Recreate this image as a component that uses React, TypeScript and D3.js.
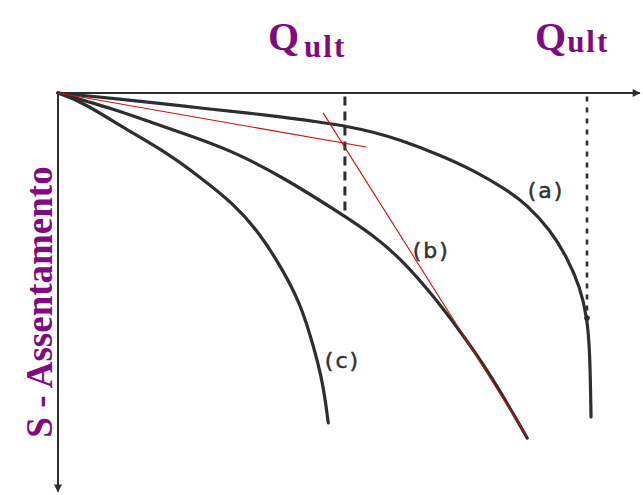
import React, { useEffect, useRef } from 'react';
import * as d3 from 'd3';

// load Q and settlement S, relative units (0-100)
const curveA_Q = [0, 16.0, 24.7, 36.3, 46.8, 49.9, 54.8, 59.5, 66.4, 72.2, 78.1, 81.6, 85.6, 88.5, 90.8, 92.0, 92.5, 92.7];
const curveA_S = [0, 2.3, 3.8, 5.5, 7.6, 8.3, 9.8, 11.8, 15.6, 19.4, 24.4, 28.2, 34.5, 41.3, 48.9, 56.4, 64.7, 81.6];

const curveB_Q = [0, 10.3, 16.0, 21.7, 30.4, 39.1, 49.0, 54.8, 59.5, 64.7, 69.4, 75.1, 81.6];
const curveB_S = [0, 4.3, 7.3, 10.1, 14.6, 21.2, 30.2, 35.8, 41.6, 50.1, 58.9, 70.5, 86.9];

const curveC_Q = [0, 4.3, 12.0, 19.0, 24.7, 30.4, 35.1, 39.1, 42.1, 44.3, 46.1, 47.0];
const curveC_S = [0, 2.3, 9.3, 15.1, 21.2, 27.7, 35.3, 44.6, 52.9, 63.0, 73.0, 83.1];

// red construction lines (tangents)
const tangent1_Q = [0, 53.6];
const tangent1_S = [0, 13.6];
const tangent2_Q = [46.1, 81.6];
const tangent2_S = [5.0, 86.6];

// Qult markers (dashed verticals)
const qultValues = [49.9, 92.0];
const qultBottoms = [30.7, 56.7];

const curveNames = ['(a)', '(b)', '(c)'];
const labelQ = [81.7, 61.7, 46.4];
const labelS = [26.4, 41.6, 69.3];

const yTitle = 'S - Assentamento';

export default function App() {
  const ref = useRef<SVGSVGElement>(null);

  useEffect(() => {
    const width = 643;
    const height = 495;
    const svg = d3.select(ref.current);
    svg.selectAll('*').remove();

    const x = d3.scaleLinear().domain([0, 100]).range([58, 633]);
    const y = d3.scaleLinear().domain([0, 100]).range([93, 490]);

    const ink = '#2e2e2e';
    const purple = '#800a80';

    const defs = svg.append('defs');
    defs.append('marker')
      .attr('id', 'arr')
      .attr('viewBox', '0 0 10 10')
      .attr('refX', 9)
      .attr('refY', 5)
      .attr('markerWidth', 10)
      .attr('markerHeight', 8)
      .attr('markerUnits', 'userSpaceOnUse')
      .attr('orient', 'auto')
      .append('path')
      .attr('d', 'M0,0 L10,5 L0,10 z')
      .attr('fill', ink);

    const line = d3.line<[number, number]>()
      .x(d => x(d[0]))
      .y(d => y(d[1]))
      .curve(d3.curveBasis);

    // axes
    svg.append('line')
      .attr('x1', x(0)).attr('y1', y(0))
      .attr('x2', x(101.2)).attr('y2', y(0))
      .attr('stroke', ink).attr('stroke-width', 2.2)
      .attr('marker-end', 'url(#arr)');
    svg.append('line')
      .attr('x1', x(0)).attr('y1', y(0))
      .attr('x2', x(0)).attr('y2', y(100.4))
      .attr('stroke', ink).attr('stroke-width', 2)
      .attr('marker-end', 'url(#arr)');

    // dashed Qult lines
    svg.selectAll('.qult')
      .data(qultValues)
      .enter().append('line')
      .attr('class', 'qult')
      .attr('x1', d => x(d)).attr('x2', d => x(d))
      .attr('y1', y(0.9))
      .attr('y2', (d, i) => y(qultBottoms[i]))
      .attr('stroke', ink)
      .attr('stroke-width', (d, i) => (i === 0 ? 3 : 2.6))
      .attr('stroke-dasharray', (d, i) => (i === 0 ? '9 6' : '5 6'));

    // load-settlement curves
    const curves = [
      d3.zip(curveA_Q, curveA_S),
      d3.zip(curveB_Q, curveB_S),
      d3.zip(curveC_Q, curveC_S),
    ] as [number, number][][];

    svg.selectAll('.curve')
      .data(curves)
      .enter().append('path')
      .attr('class', 'curve')
      .attr('d', d => line(d))
      .attr('fill', 'none')
      .attr('stroke', ink)
      .attr('stroke-width', 3.2)
      .attr('stroke-linecap', 'round');

    // dot on curve a at Qult
    svg.append('circle')
      .attr('cx', x(qultValues[1]))
      .attr('cy', y(qultBottoms[1]))
      .attr('r', 2.8)
      .attr('fill', ink);

    // red tangents
    const tangents = [d3.zip(tangent1_Q, tangent1_S), d3.zip(tangent2_Q, tangent2_S)] as [number, number][][];
    svg.selectAll('.tan')
      .data(tangents)
      .enter().append('line')
      .attr('class', 'tan')
      .attr('x1', d => x(d[0][0])).attr('y1', d => y(d[0][1]))
      .attr('x2', d => x(d[1][0])).attr('y2', d => y(d[1][1]))
      .attr('stroke', '#cc1010')
      .attr('stroke-width', 1.1);

    // curve labels
    svg.selectAll('.lbl')
      .data(curveNames)
      .enter().append('text')
      .attr('class', 'lbl')
      .attr('x', (d, i) => x(labelQ[i]))
      .attr('y', (d, i) => y(labelS[i]))
      .attr('font-family', 'DejaVu Sans, sans-serif')
      .attr('font-size', 22)
      .attr('letter-spacing', 2)
      .attr('fill', '#333')
      .attr('stroke', '#333')
      .attr('stroke-width', 0.5)
      .text(d => d);

    // Qult titles
    const titles = svg.selectAll('.qt')
      .data(qultValues)
      .enter().append('text')
      .attr('class', 'qt')
      .attr('font-family', 'Liberation Serif, Times New Roman, serif')
      .attr('font-weight', 'bold')
      .attr('fill', purple);
    titles.append('tspan')
      .attr('x', (d, i) => x(d) - (i === 0 ? 77 : 52))
      .attr('y', 50)
      .attr('font-size', 40)
      .text('Q');
    titles.append('tspan')
      .attr('dx', (d, i) => (i === 0 ? 5 : 1))
      .attr('dy', (d, i) => (i === 0 ? 7 : 2))
      .attr('font-size', 31)
      .attr('letter-spacing', 2)
      .text('ult');

    // y axis title
    svg.append('text')
      .attr('transform', `translate(52, 302) rotate(-90)`)
      .attr('text-anchor', 'middle')
      .attr('font-family', 'Liberation Serif, Times New Roman, serif')
      .attr('font-weight', 'bold')
      .attr('font-size', 37)
      .attr('fill', purple)
      .text(yTitle);

    svg.attr('width', width).attr('height', height);
  }, []);

  return (
    <svg
      ref={ref}
      width={643}
      height={495}
      style={{ position: 'absolute', left: 0, top: 0, background: '#fff' }}
    />
  );
}
